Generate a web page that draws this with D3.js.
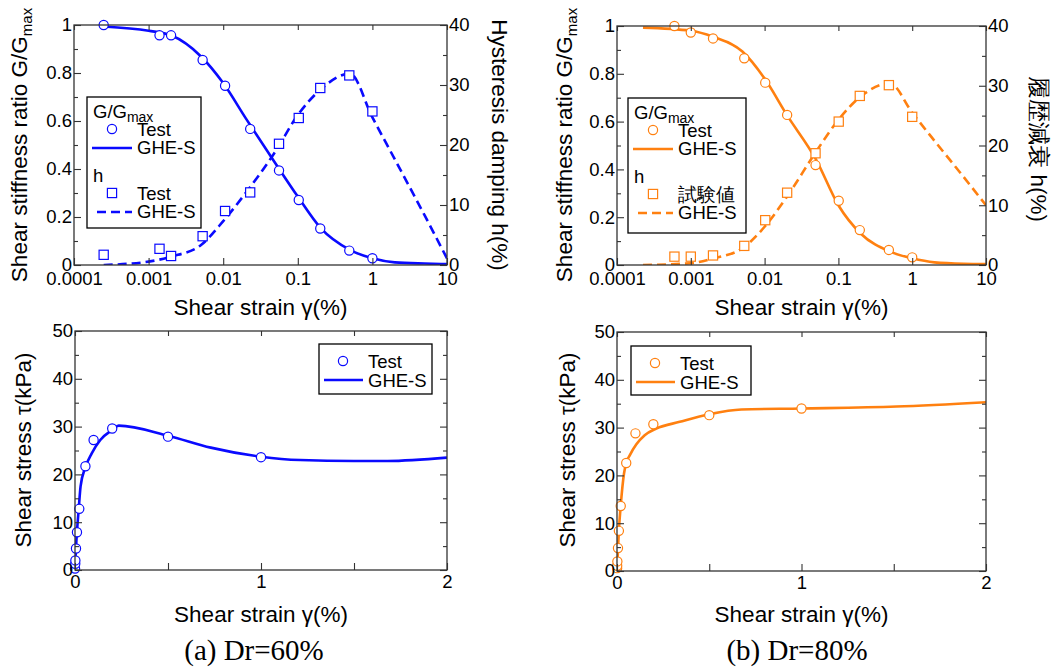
<!DOCTYPE html>
<html lang="en">
<head>
<meta charset="UTF-8">
<title>GHE-S model vs test</title>
<script src="https://d3js.org/d3.v7.min.js"></script>
<style>
    body { margin: 0; background: #fff; }
    svg { display: block; }
</style>
</head>
<body>
<script>
// ---- data ----
// (a) Dr=60%
const strainA = [0.00025, 0.0014, 0.002, 0.0053, 0.0106, 0.023, 0.056, 0.103, 0.2, 0.49, 1.0];
const gTestA = [1.0, 0.957, 0.957, 0.854, 0.747, 0.567, 0.394, 0.271, 0.152, 0.06, 0.028];
const hTestA = [1.7, 2.7, 1.5, 4.8, 9.0, 12.1, 20.2, 24.5, 29.5, 31.6, 25.6];
const curveStrainA = [0.00025, 0.001, 0.002, 0.005, 0.01, 0.02, 0.05, 0.1, 0.2, 0.5, 1, 2, 5, 10];
const gCurveA = [0.994, 0.976, 0.957, 0.87, 0.758, 0.612, 0.424, 0.285, 0.156, 0.063, 0.028, 0.011, 0.006, 0.004];
const hCurveA = [0.0, 0.56, 1.4, 3.3, 7.3, 12.0, 18.9, 25.0, 29.2, 31.9, 24.6, 17.6, 8.3, 1.1];
const tauStrainA = [0.00025, 0.0014, 0.002, 0.0053, 0.0106, 0.023, 0.056, 0.1, 0.2, 0.5, 1.0];
const tauTestA = [0.3, 1.3, 2.0, 4.5, 7.9, 12.8, 21.7, 27.2, 29.6, 27.9, 23.6];
const tauCurveStrainA = [0, 0.005, 0.01, 0.02, 0.03, 0.054, 0.09, 0.136, 0.2, 0.235, 0.5, 0.73, 1.0, 1.21, 1.5, 1.68, 2.0];
const tauCurveA = [0, 4.4, 7.7, 12.8, 17.5, 21.3, 24.4, 27.2, 29.3, 30.2, 28.1, 25.6, 23.7, 23.0, 22.8, 22.8, 23.5];

// (b) Dr=80%
const strainB = [0.0006, 0.001, 0.002, 0.0053, 0.0102, 0.0202, 0.049, 0.101, 0.195, 0.483, 1.0];
const gTestB = [1.0, 0.973, 0.948, 0.865, 0.763, 0.628, 0.418, 0.269, 0.146, 0.063, 0.032];
const hTestB = [1.4, 1.4, 1.6, 3.2, 7.5, 12.1, 18.7, 24.0, 28.3, 30.1, 24.8];
const curveStrainB = [0.000225, 0.001, 0.002, 0.005, 0.01, 0.02, 0.05, 0.1, 0.2, 0.5, 1, 2, 5, 10];
const gCurveB = [0.993, 0.98, 0.955, 0.893, 0.78, 0.628, 0.44, 0.25, 0.132, 0.056, 0.028, 0.011, 0.005, 0.004];
const hCurveB = [0, 0.3, 1.1, 2.8, 6.4, 11.4, 19.0, 24.3, 28.2, 30.4, 25.5, 20.8, 14.7, 10.0];
const tauStrainB = [0.0006, 0.001, 0.002, 0.0053, 0.0102, 0.0202, 0.05, 0.1, 0.197, 0.5, 1.0];
const tauTestB = [0.6, 1.1, 2.0, 4.8, 8.4, 13.6, 22.6, 28.8, 30.7, 32.6, 34.0];
const tauCurveStrainB = [0, 0.01, 0.02, 0.038, 0.05, 0.069, 0.105, 0.15, 0.213, 0.34, 0.5, 0.674, 1.0, 1.515, 2.0];
const tauCurveB = [0, 8.4, 13.6, 20.4, 22.6, 24.2, 26.5, 28.4, 29.8, 31.2, 32.8, 33.8, 34.0, 34.4, 35.3];

// tick labels
const logTicks = [0.0001, 0.001, 0.01, 0.1, 1, 10];
const ratioTicks = [0, 0.2, 0.4, 0.6, 0.8, 1];
const ratioMinor = [0.1, 0.3, 0.5, 0.7, 0.9];
const dampTicks = [0, 10, 20, 30, 40];
const dampMinor = [5, 15, 25, 35];
const tauTicks = [0, 10, 20, 30, 40, 50];
const tauMinor = [5, 15, 25, 35, 45];
const linTicks = [0, 1, 2];
const linMinor = [0.5, 1.5];

const BLUE = "#0a0aff", ORANGE = "#ff8010";
const SANS = "'Liberation Sans', Arial, sans-serif";
const SERIF = "'Liberation Serif', 'Times New Roman', serif";

const svg = d3.select("body").append("svg")
    .attr("width", 1058).attr("height", 668);

let clipId = 0;

/* 画一条坐标轴（刻度朝内） */
function axis(g, fn, scale, values, size, labels, pad) {
    const ax = fn(scale).tickValues(values)
        .tickSizeInner(-size).tickSizeOuter(0).tickPadding(pad || 3)
        .tickFormat(labels ? (d => String(d)) : (() => ""));
    g.call(ax);
    g.select(".domain").remove();
    g.attr("font-size", 18.5).attr("font-family", SANS);
    g.selectAll("line").attr("stroke", "#333").attr("stroke-width", 1.1);
    g.selectAll("text").attr("fill", "#000");
}

function frame(box) {
    svg.append("rect")
        .attr("x", box.x0).attr("y", box.y0)
        .attr("width", box.x1 - box.x0).attr("height", box.y1 - box.y0)
        .attr("fill", "none").attr("stroke", "#333").attr("stroke-width", 1.3);
}

function clip(box) {
    const id = "clip" + (clipId++);
    svg.append("clipPath").attr("id", id).append("rect")
        .attr("x", box.x0).attr("y", box.y0 - 6)
        .attr("width", box.x1 - box.x0).attr("height", box.y1 - box.y0 + 6);
    return svg.append("g").attr("clip-path", `url(#${id})`);
}

function circles(g, xs, ys, x, y, color) {
    g.selectAll(null).data(xs).enter().append("circle")
        .attr("cx", d => x(d)).attr("cy", (d, i) => y(ys[i])).attr("r", 4.6)
        .attr("fill", "#fff").attr("stroke", color).attr("stroke-width", 1.2);
}

function squares(g, xs, ys, x, y, color) {
    g.selectAll(null).data(xs).enter().append("rect")
        .attr("x", d => x(d) - 4.6).attr("y", (d, i) => y(ys[i]) - 4.6)
        .attr("width", 9.2).attr("height", 9.2)
        .attr("fill", "#fff").attr("stroke", color).attr("stroke-width", 1.2);
}

function curve(g, xs, ys, x, y, color, dashed) {
    const line = d3.line().x(d => x(d[0])).y(d => y(d[1])).curve(d3.curveMonotoneX);
    g.append("path").datum(xs.map((v, i) => [v, ys[i]]))
        .attr("d", line).attr("fill", "none").attr("stroke", color)
        .attr("stroke-width", 2.6)
        .attr("stroke-dasharray", dashed ? "9,5" : null);
}

function label(txt, x, y, size, rot, family) {
    return svg.append("text")
        .attr("transform", `translate(${x},${y})` + (rot ? ` rotate(${rot})` : ""))
        .attr("text-anchor", "middle").attr("font-family", family || SANS)
        .attr("font-size", size).attr("fill", "#000")
        .text(txt);
}

/* G/Gmax 和 h 的半对数图 */
function topPanel(box, opt) {
    const x = d3.scaleLog().domain([0.0001, 10]).range([box.x0, box.x1]);
    const y = d3.scaleLinear().domain([0, 1]).range([box.y1, box.y0]);
    const y2 = d3.scaleLinear().domain([0, 40]).range([box.y1, box.y0]);

    const g = clip(box);
    curve(g, opt.curveStrain, opt.hCurve, x, y2, opt.color, true);
    curve(g, opt.curveStrain, opt.gCurve, x, y, opt.color, false);
    squares(svg, opt.strain, opt.hTest, x, y2, opt.color);
    circles(svg, opt.strain, opt.gTest, x, y, opt.color);

    frame(box);
    axis(svg.append("g").attr("transform", `translate(0,${box.y1})`), d3.axisBottom, x, logTicks, 7, true, 7);
    axis(svg.append("g").attr("transform", `translate(0,${box.y0})`), d3.axisTop, x, logTicks, 5, false);
    axis(svg.append("g").attr("transform", `translate(${box.x0},0)`), d3.axisLeft, y, ratioTicks, 7, true, 2);
    axis(svg.append("g").attr("transform", `translate(${box.x0},0)`), d3.axisLeft, y, ratioMinor, 4, false);
    axis(svg.append("g").attr("transform", `translate(${box.x1},0)`), d3.axisRight, y2, dampTicks, 7, true, 2);
    axis(svg.append("g").attr("transform", `translate(${box.x1},0)`), d3.axisRight, y2, dampMinor, 4, false);

    const cx = (box.x0 + box.x1) / 2;
    label("Shear strain γ(%)", cx, 315, 22.5);
    const yl = label("", opt.leftTitleX, 145, 22.5, -90);
    yl.append("tspan").text("Shear stiffness ratio G/G");
    yl.append("tspan").attr("font-size", 15).attr("dy", 5).text("max");
    label(opt.rightTitle, opt.rightTitleX, opt.rightTitleY, 22.5, 90);

    // legend
    const L = opt.legend;
    const lg = svg.append("g").attr("transform", `translate(${L.x},${L.y})`)
        .attr("font-family", SANS).attr("font-size", 18.5);
    lg.append("rect").attr("width", L.w).attr("height", L.h)
        .attr("fill", "#fff").attr("stroke", "#000").attr("stroke-width", 1.3);
    const tt = lg.append("text").attr("x", 6).attr("y", 21);
    tt.append("tspan").text("G/G");
    tt.append("tspan").attr("font-size", 14).attr("dy", 4).text("max");
    lg.append("circle").attr("cx", 25).attr("cy", 32).attr("r", 4.6)
        .attr("fill", "#fff").attr("stroke", opt.color).attr("stroke-width", 1.2);
    lg.append("text").attr("x", 50).attr("y", 39).text("Test");
    lg.append("line").attr("x1", 5).attr("x2", 45).attr("y1", 51).attr("y2", 51)
        .attr("stroke", opt.color).attr("stroke-width", 2.6);
    lg.append("text").attr("x", 50).attr("y", 57).text("GHE-S");
    lg.append("text").attr("x", 6).attr("y", 85).text("h");
    lg.append("rect").attr("x", 25 - 4.6).attr("y", 96 - 4.6).attr("width", 9.2).attr("height", 9.2)
        .attr("fill", "#fff").attr("stroke", opt.color).attr("stroke-width", 1.2);
    lg.append("text").attr("x", 50).attr("y", 103).text(opt.hTestName);
    lg.append("line").attr("x1", 10).attr("x2", 45).attr("y1", 115).attr("y2", 115)
        .attr("stroke", opt.color).attr("stroke-width", 2.6).attr("stroke-dasharray", "9,5");
    lg.append("text").attr("x", 50).attr("y", 121).text("GHE-S");
}

/* 应力-应变曲线 */
function bottomPanel(box, opt) {
    const x = d3.scaleLinear().domain([0, 2]).range([box.x0, box.x1]);
    const y = d3.scaleLinear().domain([0, 50]).range([box.y1, box.y0]);

    const g = clip(box);
    curve(g, opt.curveStrain, opt.tauCurve, x, y, opt.color, false);
    circles(svg, opt.strain, opt.tauTest, x, y, opt.color);

    frame(box);
    axis(svg.append("g").attr("transform", `translate(0,${box.y1})`), d3.axisBottom, x, linTicks, 7, true, 5);
    axis(svg.append("g").attr("transform", `translate(0,${box.y1})`), d3.axisBottom, x, linMinor, 7, false);
    axis(svg.append("g").attr("transform", `translate(0,${box.y0})`), d3.axisTop, x, linTicks.concat(linMinor), 5, false);
    axis(svg.append("g").attr("transform", `translate(${box.x0},0)`), d3.axisLeft, y, tauTicks, 7, true, 2);
    axis(svg.append("g").attr("transform", `translate(${box.x0},0)`), d3.axisLeft, y, tauMinor, 4, false);
    axis(svg.append("g").attr("transform", `translate(${box.x1},0)`), d3.axisRight, y, tauTicks, 7, false);
    axis(svg.append("g").attr("transform", `translate(${box.x1},0)`), d3.axisRight, y, tauMinor, 4, false);

    const cx = (box.x0 + box.x1) / 2;
    label("Shear strain γ(%)", cx, 622, 22.5);
    label("Shear stress τ(kPa)", opt.leftTitleX, 450, 22.5, -90);
    label(opt.caption, opt.capX, 660, 29, 0, SERIF);

    const L = opt.legend;
    const lg = svg.append("g").attr("transform", `translate(${L.x},${L.y})`)
        .attr("font-family", SANS).attr("font-size", 18.5);
    lg.append("rect").attr("width", L.w).attr("height", L.h)
        .attr("fill", "#fff").attr("stroke", "#000").attr("stroke-width", 1.3);
    lg.append("circle").attr("cx", 24).attr("cy", 17).attr("r", 4.6)
        .attr("fill", "#fff").attr("stroke", opt.color).attr("stroke-width", 1.2);
    lg.append("text").attr("x", 49).attr("y", 24).text("Test");
    lg.append("line").attr("x1", 5).attr("x2", 44).attr("y1", 36).attr("y2", 36)
        .attr("stroke", opt.color).attr("stroke-width", 2.6);
    lg.append("text").attr("x", 49).attr("y", 43).text("GHE-S");
}

topPanel({x0: 74, x1: 447, y0: 25, y1: 265}, {
    color: BLUE, strain: strainA, gTest: gTestA, hTest: hTestA,
    curveStrain: curveStrainA, gCurve: gCurveA, hCurve: hCurveA,
    leftTitleX: 27, rightTitle: "Hysteresis damping h(%)", rightTitleX: 492, rightTitleY: 145,
    hTestName: "Test", legend: {x: 87, y: 97, w: 114, h: 131}
});
topPanel({x0: 617, x1: 986, y0: 26, y1: 265}, {
    color: ORANGE, strain: strainB, gTest: gTestB, hTest: hTestB,
    curveStrain: curveStrainB, gCurve: gCurveB, hCurve: hCurveB,
    leftTitleX: 572, rightTitle: "履歴減衰 h(%)", rightTitleX: 1031, rightTitleY: 149,
    hTestName: "試験値", legend: {x: 628, y: 98, w: 118, h: 135}
});
bottomPanel({x0: 75, x1: 447, y0: 331, y1: 570}, {
    color: BLUE, strain: tauStrainA, tauTest: tauTestA,
    curveStrain: tauCurveStrainA, tauCurve: tauCurveA,
    leftTitleX: 31, capX: 254, caption: "(a) Dr=60%",
    legend: {x: 319, y: 344, w: 113, h: 50}
});
bottomPanel({x0: 617, x1: 986, y0: 332, y1: 571}, {
    color: ORANGE, strain: tauStrainB, tauTest: tauTestB,
    curveStrain: tauCurveStrainB, tauCurve: tauCurveB,
    leftTitleX: 575, capX: 797, caption: "(b) Dr=80%",
    legend: {x: 631, y: 346, w: 120, h: 49}
});
</script>
</body>
</html>
